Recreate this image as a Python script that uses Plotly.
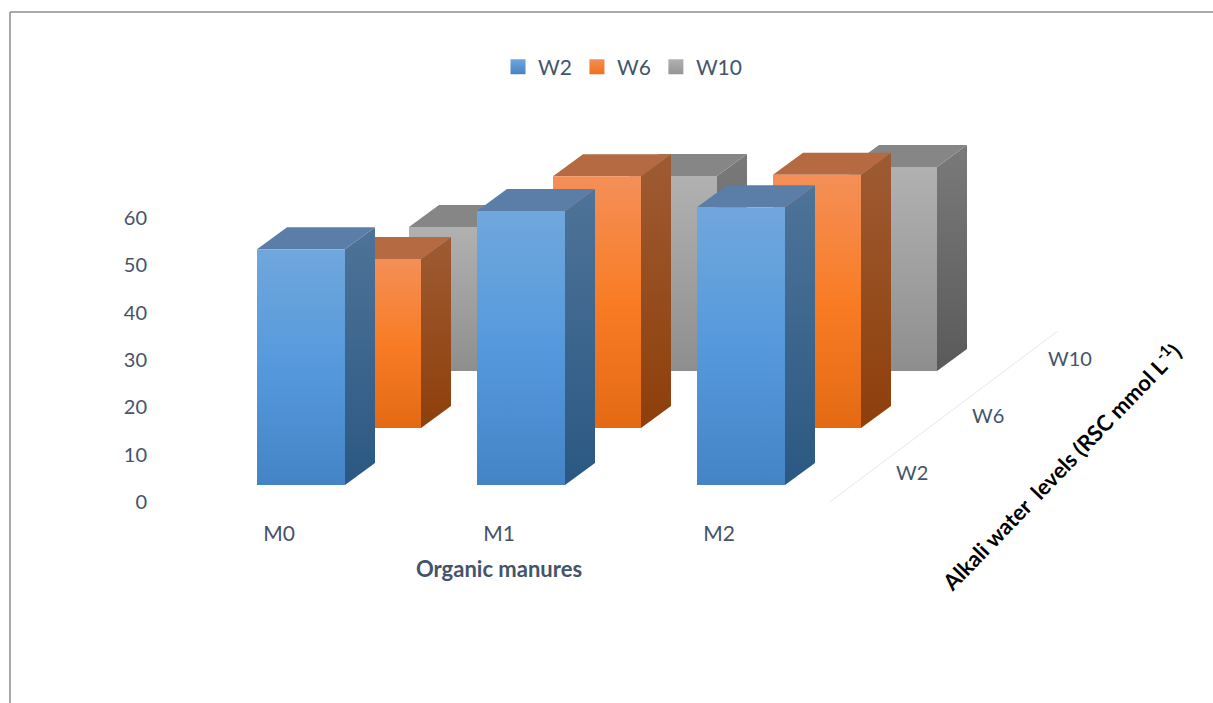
import plotly.graph_objects as go

# ---- data ----
categories = ["M0", "M1", "M2"]
depth_levels = ["W2", "W6", "W10"]
w2_values = [49.8, 57.9, 58.7]
w6_values = [35.7, 53.2, 53.5]
w10_values = [30.4, 41.2, 43.1]
value_ticks = [0, 10, 20, 30, 40, 50, 60]

# ---- style ----
W, H = 1213, 703
TEXT = "#44546A"
FONT = "Lato"
front = {
    "W2": [[0, "#4484C6"], [0.5, "#5599DC"], [1, "#70A7DD"]],
    "W6": [[0, "#E36A13"], [0.5, "#F97C25"], [1, "#F48F58"]],
    "W10": [[0, "#8E8E8E"], [0.5, "#A0A0A0"], [1, "#B1B1B1"]],
}
side = {
    "W2": [[0, "#2A5882"], [1, "#4F7399"]],
    "W6": [[0, "#8E3F0A"], [1, "#9E5B33"]],
    "W10": [[0, "#5A5A5A"], [1, "#7A7A7A"]],
}
top_col = {"W2": "#5B7EA8", "W6": "#B56A42", "W10": "#868686"}
legend_col = {"W2": ("#4484C6", "#70A7DD"), "W6": ("#F0701A", "#F48F58"), "W10": ("#959595", "#B1B1B1")}

# ---- axes layout (pixel geometry of the oblique projection) ----
PX0, PX1 = 28, 970          # x-axis domain in pixels
PY0, PY1 = 510, 130         # y-axis domain in pixels
CAT_PX, VAL_PX = 220.0, 4.733   # pixels per category / value unit
M0_PX, ZERO_PX = 279.0, 502.0   # pixel of M0 tick and value 0
x_range = [(PX0 - M0_PX) / CAT_PX, (PX1 - M0_PX) / CAT_PX]
x2_range = [(0 - M0_PX) / CAT_PX, (W - M0_PX) / CAT_PX]   # full-width axis for the depth axis
y_range = [(ZERO_PX - PY0) / VAL_PX, (ZERO_PX - PY1) / VAL_PX]

BAR_W = 88 / CAT_PX
BAR_LEFT = -22 / CAT_PX
DEPTH_DX, DEPTH_DY = 76 / CAT_PX, 57 / VAL_PX
FLOOR_DY = 17 / VAL_PX
BOX_DX, BOX_DY = 30 / CAT_PX, 22 / VAL_PX


def proj(i, d, v):
    """Oblique projection of (category, depth, value) to axis coordinates."""
    return i + BAR_LEFT + d * DEPTH_DX, v + FLOOR_DY + d * DEPTH_DY


series = {"W2": w2_values, "W6": w6_values, "W10": w10_values}
fig = go.Figure()


def poly(xs, ys, name, **kw):
    fig.add_trace(go.Scatter(x=xs + xs[:1], y=ys + ys[:1], mode="lines", fill="toself",
                             line=dict(width=0), name=name, showlegend=False,
                             hoverinfo="skip", **kw))


for d in [2, 1, 0]:
    name = depth_levels[d]
    for i, v in enumerate(series[name]):
        x0, y0 = proj(i, d, 0)
        x1, y1 = proj(i, d, v)
        xr = x0 + BAR_W
        # right side
        poly([xr, xr + BOX_DX, xr + BOX_DX, xr], [y0, y0 + BOX_DY, y1 + BOX_DY, y1], name,
             fillgradient=dict(type="vertical", colorscale=side[name]))
        # top
        poly([x0, xr, xr + BOX_DX, x0 + BOX_DX], [y1, y1, y1 + BOX_DY, y1 + BOX_DY], name,
             fillcolor=top_col[name])
        # front
        poly([x0, xr, xr, x0], [y0, y0, y1, y1], name,
             fillgradient=dict(type="vertical", colorscale=front[name]))

# legend entries
for name in depth_levels:
    lo, hi = legend_col[name]
    fig.add_trace(go.Scatter(x=[None], y=[None], mode="markers", name=name, showlegend=True,
                             marker=dict(symbol="square", size=15, color=hi,
                                         gradient=dict(type="vertical", color=lo))))

# depth axis: line and level labels
dx_line = [proj(2, -0.298, 0)[0] + 155.5 / CAT_PX, proj(2, 2.70, 0)[0] + 155.5 / CAT_PX]
dy_line = [proj(0, -0.298, 0)[1], proj(0, 2.70, 0)[1]]
fig.add_trace(go.Scatter(x=dx_line, y=dy_line, xaxis="x2", mode="lines",
                         line=dict(color="#E4E6EA", width=1),
                         showlegend=False, hoverinfo="skip"))
lab_x = [proj(2, d, 0)[0] + 199 / CAT_PX for d in range(3)]
lab_y = [proj(0, d, 0)[1] + 2.1 for d in range(3)]
fig.add_trace(go.Scatter(x=lab_x, y=lab_y, xaxis="x2", mode="text", text=depth_levels,
                         textposition="middle right",
                         textfont=dict(family=FONT, size=20, color=TEXT),
                         showlegend=False, hoverinfo="skip"))

fig.update_layout(
    width=W, height=H, margin=dict(l=0, r=0, t=0, b=0, autoexpand=False),
    paper_bgcolor="white", plot_bgcolor="rgba(0,0,0,0)",
    font=dict(family=FONT, size=20, color=TEXT),
    legend=dict(orientation="h", x=498 / W, xanchor="left", y=1 - 67 / H, yanchor="middle",
                font=dict(family=FONT, size=21, color=TEXT), itemwidth=30,
                bgcolor="rgba(0,0,0,0)", traceorder="normal"),
    xaxis=dict(domain=[PX0 / W, PX1 / W], range=x_range, tickmode="array",
               tickvals=list(range(len(categories))), ticktext=categories,
               tickfont=dict(family=FONT, size=21, color=TEXT),
               showgrid=False, zeroline=False, showline=False, ticks="", ticklabelstandoff=9,
               title=dict(text="<b>Organic manures</b>", standoff=17,
                          font=dict(family=FONT, size=22, color=TEXT))),
    xaxis2=dict(domain=[0, 1], range=x2_range, anchor="y", visible=False),
    yaxis=dict(domain=[1 - PY0 / H, 1 - PY1 / H], range=y_range, tickmode="array",
               tickvals=value_ticks, showgrid=False, zeroline=False, showline=False, ticks="",
               anchor="free", position=147 / W),
    annotations=[dict(text="<b>Alkali water  levels (RSC mmol L<sup>-1</sup>)</b>",
                      xref="paper", yref="paper", x=1060 / W, y=1 - 466 / H,
                      xanchor="center", yanchor="middle", showarrow=False, textangle=-46,
                      font=dict(family=FONT, size=22, color="black"))],
    shapes=[
        dict(type="line", xref="paper", yref="paper", x0=10 / W, x1=1, y0=1 - 12 / H, y1=1 - 12 / H,
             line=dict(color="#8C8C8C", width=1.5)),
        dict(type="line", xref="paper", yref="paper", x0=10 / W, x1=10 / W, y0=1 - 12 / H, y1=0,
             line=dict(color="#8C8C8C", width=1.5)),
    ],
)

fig.write_html("out.html", config={"displayModeBar": False},
               post_script="document.body.style.margin='0';document.body.style.overflow='hidden';")
